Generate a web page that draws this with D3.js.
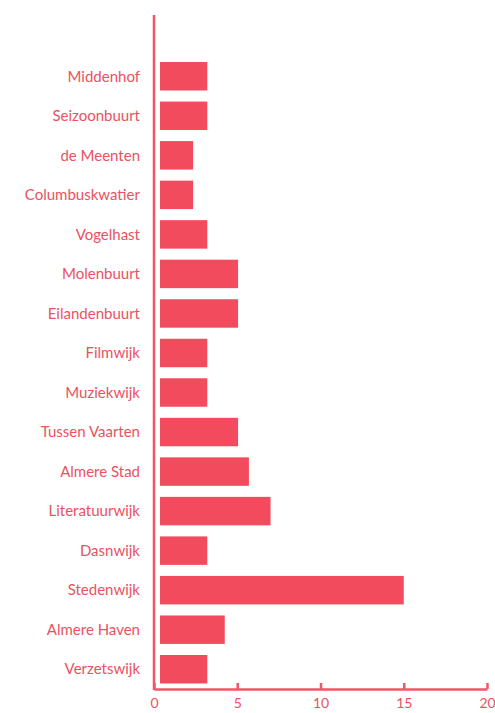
<!DOCTYPE html>
<html><head><meta charset="utf-8">
<script src="https://cdn.jsdelivr.net/npm/d3@7"></script>
<style>body{margin:0;background:#fff}svg{display:block}</style>
</head><body><svg id="c" width="495" height="713"></svg>
<script>
const categories = ["Middenhof","Seizoonbuurt","de Meenten","Columbuskwatier","Vogelhast","Molenbuurt","Eilandenbuurt","Filmwijk","Muziekwijk","Tussen Vaarten","Almere Stad","Literatuurwijk","Dasnwijk","Stedenwijk","Almere Haven","Verzetswijk"];
const values = [3.2,3.2,2.35,2.35,3.2,5.05,5.05,3.2,3.2,5.05,5.7,7.0,3.2,15,4.25,3.2];
const xTicks = [0,5,10,15,20];

const col = "#f24b5d", txt = "#ea5262", axisCol = "#f25566";
const svg = d3.select("#c");
const font = "Lato, 'Open Sans', sans-serif";
const x = d3.scaleLinear().domain([0,20]).range([154,487]);
const y = d3.scaleBand().domain(categories).range([56.5,689]).paddingInner(0.28).paddingOuter(0.14);
const gap = 6;

svg.append("g").selectAll("rect").data(categories).join("rect")
  .attr("x", x(0)+gap).attr("y", d=>y(d))
  .attr("width", (d,i)=>x(values[i])-x(0)-gap)
  .attr("height", y.bandwidth()).attr("fill", col);

svg.append("g").selectAll("text").data(categories).join("text")
  .attr("x", 140).attr("y", d=>y(d)+y.bandwidth()/2).attr("dy","0.35em")
  .attr("text-anchor","end").attr("fill", txt)
  .style("font-family", font).style("font-size","15px").text(d=>d);

// left axis line
svg.append("line").attr("x1",x(0)).attr("x2",x(0)).attr("y1",15).attr("y2",690)
  .attr("stroke",axisCol).attr("stroke-width",2.5);

const xa = svg.append("g").attr("transform","translate(0,689)")
  .call(d3.axisBottom(x).tickValues(xTicks).tickSizeInner(-6).tickSizeOuter(0).tickPadding(9));
xa.select(".domain").attr("stroke",axisCol).attr("stroke-width",2.5);
xa.selectAll(".tick line").attr("stroke",axisCol).attr("stroke-width",2.5);
xa.selectAll(".tick text").attr("fill",txt).style("font-family",font).style("font-size","14px");
</script></body></html>
